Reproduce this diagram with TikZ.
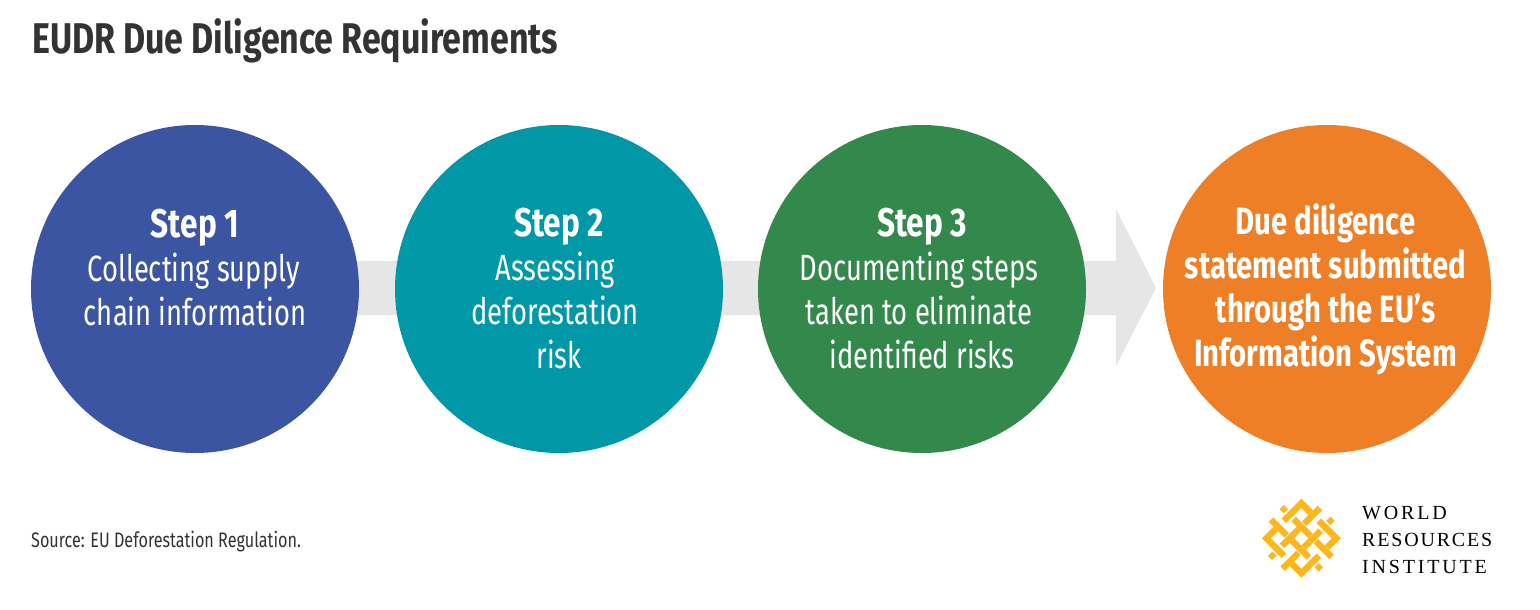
\documentclass[tikz,border=0pt]{standalone}
\usepackage{fontspec}
\setmainfont[FakeStretch=0.75]{Fira Sans}
\newfontfamily\stepfont[FakeStretch=0.79]{Fira Sans}
\newfontfamily\boldfont[FakeStretch=0.77]{Fira Sans}
\newfontfamily\titlefont[FakeStretch=0.79]{Fira Sans}
\newfontfamily\sourcefont[FakeStretch=0.77]{Fira Sans}
\newfontfamily\logofont[LetterSpace=14]{Liberation Serif}
\definecolor{cblue}{HTML}{3B55A2}
\definecolor{cteal}{HTML}{0097A7}
\definecolor{cgreen}{HTML}{33884C}
\definecolor{corange}{HTML}{EE7F27}
\definecolor{cgrey}{HTML}{E6E6E6}
\definecolor{ctext}{HTML}{333333}
\definecolor{clogo}{HTML}{FDB71C}
\newcommand{\stepline}[1]{{\stepfont\bfseries\fontsize{40}{44}\selectfont #1}}
\newcommand{\boldline}[1]{{\boldfont\bfseries #1}}
\tikzset{
 x=1pt,y=-1pt,
 stepcircle/.style={circle,minimum size=328pt,inner sep=0pt,text=white,align=center,font=\fontsize{36.5}{44}\selectfont},
 strip/.style={draw=clogo,line width=6.4pt,line join=miter,line cap=butt},
 knot/.style={fill=clogo},
}
\begin{document}
\begin{tikzpicture}
\useasboundingbox (0,0) rectangle (1540,610);
\fill[white] (0,0) rectangle (1540,610);
\fill[cgrey] (300,261) -- (1116,261) -- (1116,209) -- (1156,288) -- (1116,366) -- (1116,315) -- (300,315) -- cycle;
\node[stepcircle,fill=cblue] (s1) at (195,289) {\stepline{Step 1}\\Collecting supply\kern3pt\\chain information\\\mbox{}};
\node[stepcircle,fill=cteal] (s2) at (559,289) {\stepline{Step 2}\\Assessing\kern8pt\\deforestation\kern8pt\\risk};
\node[stepcircle,fill=cgreen] (s3) at (922,289) {\stepline{Step 3}\\Documenting steps\kern6pt\\taken to eliminate\kern6pt\\identified risks};
\node[stepcircle,fill=corange] (s4) at (1327,289) {};
\node[text=white,align=center,inner sep=0pt,font=\fontsize{38}{44}\selectfont] (s4text) at (1325.5,289) {\boldline{Due diligence}\\\boldline{statement submitted}\\\boldline{through the EU’s}\\\boldline{Information System}};
\node[anchor=west,text=ctext,font=\titlefont\bfseries\fontsize{43}{50}\selectfont,inner sep=0pt] (title) at (32,41) {EUDR Due Diligence Requirements};
\node[anchor=west,text=ctext,font=\sourcefont\fontsize{21}{25}\selectfont,inner sep=0pt] (source) at (31,541.5) {Source: EU Deforestation Regulation.};
\node[anchor=west,font=\logofont\fontsize{20}{27.2}\selectfont,align=left,inner sep=0pt] (wri) at (1362,540) {WORLD\\{\addfontfeature{LetterSpace=9}RESOURCES}\\INSTITUTE};
\begin{scope}[shift={(1301.3,538.3)},x={(5.83pt,-5.83pt)},y={(5.83pt,5.83pt)}]
 % corner chevrons
 \draw[strip] (-3,0) -- (-3,3) -- (-1.4,3);
 \draw[strip] (0,3) -- (3,3) -- (3,1.4);
 \draw[strip] (3,0) -- (3,-3) -- (1.4,-3);
 \draw[strip] (0,-3) -- (-3,-3) -- (-3,-1.4);
 % outer bars
 \draw[strip] (-1,1.5) -- (-1,4.2);
 \draw[strip] (1.5,1) -- (4.2,1);
 \draw[strip] (1,-1.5) -- (1,-4.2);
 \draw[strip] (-1.5,-1) -- (-4.2,-1);
 % inner bars
 \draw[strip] (-1,-2.3) -- (-1,0.6);
 \draw[strip] (-2.3,1) -- (0.6,1);
 \draw[strip] (1,-0.6) -- (1,2.3);
 \draw[strip] (-0.6,-1) -- (2.3,-1);
 % small diamonds
 \fill[knot] (-4.36,0.64) -- (-3.64,0.64) -- (-3.64,1.36) -- (-4.36,1.36) -- cycle;
 \fill[knot] (0.64,3.64) -- (1.36,3.64) -- (1.36,4.36) -- (0.64,4.36) -- cycle;
 \fill[knot] (3.64,-1.36) -- (4.36,-1.36) -- (4.36,-0.64) -- (3.64,-0.64) -- cycle;
 \fill[knot] (-1.36,-4.36) -- (-0.64,-4.36) -- (-0.64,-3.64) -- (-1.36,-3.64) -- cycle;
\end{scope}
\end{tikzpicture}
\end{document}
